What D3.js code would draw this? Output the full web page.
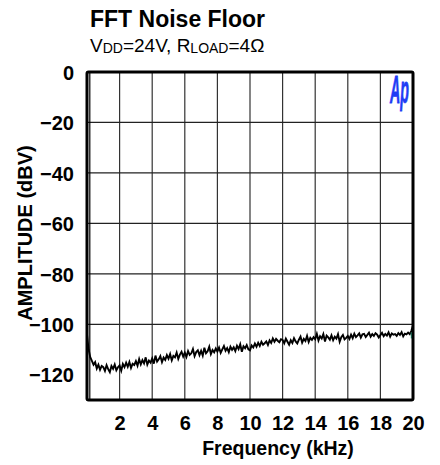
<!DOCTYPE html>
<html>
<head>
<meta charset="utf-8">
<script src="https://cdn.jsdelivr.net/npm/d3@7"></script>
<style>
  html, body { margin: 0; padding: 0; background: #fff; }
  svg { display: block; font-family: "Liberation Sans", Arial, sans-serif; }
</style>
</head>
<body>
<svg id="chart" width="440" height="465"></svg>
<script>
// ---- data ----
const title = "FFT Noise Floor";
const xTicks = [2, 4, 6, 8, 10, 12, 14, 16, 18, 20];
const yTicks = [0, -20, -40, -60, -80, -100, -120];
const yGrid = [-20, -40, -60, -80, -100];
const xDomain = [0, 20];
const yDomain = [-130, 0];
const freqStepKHz = 0.1; // FFT bin spacing of the sampled trace
// amplitude (dBV) read from the trace, one value per 0.1 kHz from 0 to 20 kHz
const amplitude = [
  -104, -110, -113, -114.5, -116, -115, -117.5, -116, -118, -116.5,
  -117, -118.5, -116.2, -117.8, -119, -116.5, -117.6, -115.9, -118.2, -117,
  -116.3, -118.4, -115.7, -117, -115.2, -116.8, -114.9, -117.3, -115.6, -116.1,
  -114.6, -116.4, -113.8, -115.9, -114.2, -115.5, -113.1, -116, -114.4, -115.2,
  -113.5, -115.6, -112.4, -114.8, -113.9, -112.6, -115, -113.2, -114.1, -112.2,
  -113.6, -111.8, -114.3, -112.5, -113.1, -111.2, -113.7, -112, -110.9, -112.8,
  -111.2, -112.9, -110.6, -112.1, -111.5, -109.8, -112.6, -111, -110.3, -112.2,
  -110.5, -112.4, -109.3, -111.5, -110.7, -108.9, -111.8, -110.2, -111.1, -109.6,
  -110.8, -109.2, -111.3, -109.9, -108.6, -110.5, -109.4, -111, -108.9, -110.1,
  -109.1, -110.6, -108.5, -109.8, -107.9, -110.9, -108.7, -109.5, -108.2, -109.9,
  -110.3, -108.4, -109.2, -107.6, -108.9, -107.3, -108.6, -106.9, -108.1, -107.5,
  -106.8, -108.2, -106.4, -107.4, -105.6, -106.9, -105.8, -106.5, -107.1, -105.9,
  -106.2, -107.5, -105.7, -106.9, -108.1, -106.3, -107.4, -105.5, -106.8, -107.6,
  -106.1, -104.9, -107.3, -105.8, -106.6, -104.6, -107, -105.4, -106.2, -105.1,
  -105.9, -103.8, -106.4, -104.7, -105.6, -103.9, -106.8, -104.5, -105.2, -106.1,
  -104.4, -106.3, -104.9, -105.7, -103.9, -106.9, -105.1, -104.2, -106, -105.4,
  -104.6, -105.8, -104.1, -105.5, -103.7, -105.1, -104.4, -103.6, -105.3, -104,
  -103.8, -105, -104.2, -103.3, -104.9, -103.9, -104.6, -103.5, -104.1, -105.2,
  -104.3, -103.4, -104.7, -103.8, -104.5, -103.2, -104.9, -103.6, -104.1, -103.9,
  -104.6, -103.5, -104.2, -103.1, -104.8, -103.7, -104, -103.3, -103.9, -102.6,
  -100.5
];
const trace = amplitude.map((v, i) => ({ f: i * freqStepKHz, v }));

// ---- layout ----
const svg = d3.select("#chart");
const plot = { left: 87, top: 72, right: 413, bottom: 400 };

const x = d3.scaleLinear().domain(xDomain).range([plot.left, plot.right]);
const y = d3.scaleLinear().domain(yDomain).range([plot.bottom, plot.top]);

// grid
svg.append("g")
  .selectAll("line.v")
  .data(xTicks.filter(t => t < xDomain[1]))
  .join("line")
  .attr("x1", d => x(d)).attr("x2", d => x(d))
  .attr("y1", plot.top).attr("y2", plot.bottom)
  .attr("stroke", "#333").attr("stroke-width", 1.2);

svg.append("g")
  .selectAll("line.h")
  .data(yGrid)
  .join("line")
  .attr("x1", plot.left).attr("x2", plot.right)
  .attr("y1", d => y(d)).attr("y2", d => y(d))
  .attr("stroke", "#222").attr("stroke-width", 1.2);

// trace
const line = d3.line().x(d => x(d.f)).y(d => y(d.v));
svg.append("path")
  .datum(trace)
  .attr("d", line)
  .attr("fill", "none")
  .attr("stroke", "#000")
  .attr("stroke-width", 1.9)
  .attr("stroke-linejoin", "miter");

// small teal cursor at end of trace
const last = trace[trace.length - 1];
svg.append("line")
  .attr("x1", x(last.f) - 1.5).attr("x2", x(last.f) - 1.5)
  .attr("y1", y(-103.2)).attr("y2", y(-105.6))
  .attr("stroke", "#2fb38f").attr("stroke-width", 1.5);

// frame
svg.append("rect")
  .attr("x", plot.left).attr("y", plot.top)
  .attr("width", plot.right - plot.left).attr("height", plot.bottom - plot.top)
  .attr("fill", "none").attr("stroke", "#000").attr("stroke-width", 3)
  .attr("rx", 1.5);
svg.append("line")
  .attr("x1", plot.left + 2.8).attr("x2", plot.left + 2.8)
  .attr("y1", plot.top).attr("y2", plot.bottom)
  .attr("stroke", "#000").attr("stroke-width", 1.2);

// axes (labels only)
const xAxis = d3.axisBottom(x).tickValues(xTicks).tickSize(0).tickPadding(0);
const gx = svg.append("g").attr("transform", `translate(0,${plot.bottom})`).call(xAxis);
gx.select(".domain").remove();
gx.selectAll("text")
  .attr("y", 30).attr("dy", 0)
  .attr("font-family", "'Liberation Sans', Arial, sans-serif")
  .attr("font-size", 20).attr("font-weight", "bold").attr("fill", "#000");

const yAxis = d3.axisLeft(y).tickValues(yTicks).tickSize(0).tickPadding(0);
const gy = svg.append("g").attr("transform", `translate(${plot.left - 13},0)`).call(yAxis);
gy.select(".domain").remove();
gy.selectAll("text")
  .attr("x", 0).attr("dy", "0.36em")
  .attr("font-family", "'Liberation Sans', Arial, sans-serif")
  .attr("font-size", 20).attr("font-weight", "bold").attr("fill", "#000");

// titles
svg.append("text")
  .attr("x", 90).attr("y", 27)
  .attr("font-size", 23).attr("font-weight", "bold").attr("fill", "#000")
  .text(title);

const sub = svg.append("text").attr("x", 90).attr("y", 52).attr("font-size", 19).attr("fill", "#000");
sub.append("tspan").text("V");
sub.append("tspan").attr("font-size", 14).attr("dy", 1).text("DD");
sub.append("tspan").attr("dy", -1).text("=24V, R");
sub.append("tspan").attr("font-size", 14).attr("dy", 1).text("LOAD");
sub.append("tspan").attr("dy", -1).text("=4Ω");

svg.append("text")
  .attr("x", (plot.left + plot.right) / 2 + 28).attr("y", 455)
  .attr("text-anchor", "middle")
  .attr("font-size", 19.5).attr("font-weight", "bold").attr("fill", "#000")
  .text("Frequency (kHz)");

svg.append("text")
  .attr("transform", `translate(32,${233}) rotate(-90)`)
  .attr("text-anchor", "middle")
  .attr("font-size", 20).attr("font-weight", "bold").attr("fill", "#000")
  .text("AMPLITUDE (dBV)");

// Ap logo
svg.append("text")
  .attr("x", 390).attr("y", 103)
  .attr("font-family", "'Liberation Sans Narrow', 'Liberation Sans', Arial, sans-serif")
  .attr("font-size", 38).attr("font-weight", "bold").attr("font-style", "italic")
  .attr("fill", "#1f3df5").attr("stroke", "#1f3df5").attr("stroke-width", 0.8)
  .attr("textLength", 19).attr("lengthAdjust", "spacingAndGlyphs")
  .text("Ap");
</script>
</body>
</html>
